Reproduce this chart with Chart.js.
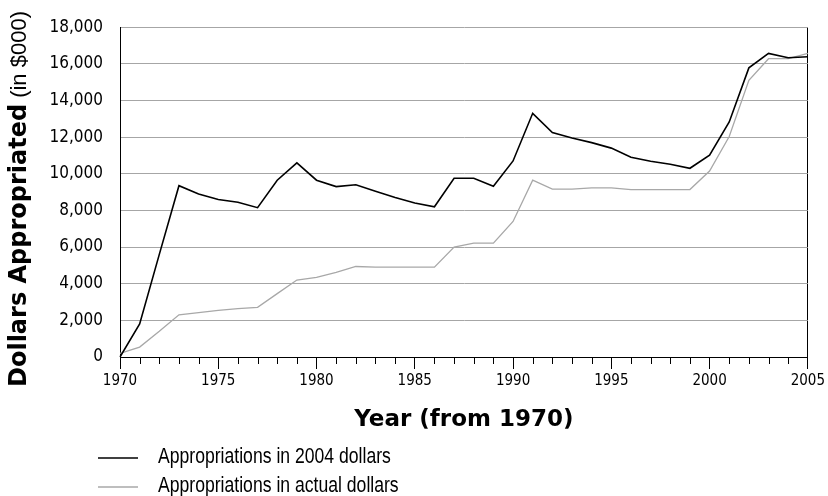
<!DOCTYPE html>
<html>
<head>
<meta charset="utf-8">
<script src="https://cdn.jsdelivr.net/npm/chart.js@4.4.1/dist/chart.umd.min.js"></script>
<style>
  html, body { margin: 0; padding: 0; background: #fff; }
  #wrap { width: 828px; height: 496px; }
</style>
</head>
<body>
<div id="wrap"><canvas id="c" width="828" height="496"></canvas></div>
<script>
// ---- Data ----
const years = [1970,1971,1972,1973,1974,1975,1976,1977,1978,1979,1980,1981,1982,1983,1984,1985,1986,1987,1988,1989,1990,1991,1992,1993,1994,1995,1996,1997,1998,1999,2000,2001,2002,2003,2004,2005];
const appropriations2004 = [0,1800,5600,9350,8900,8600,8450,8150,9650,10600,9650,9300,9400,9050,8700,8400,8200,9760,9760,9320,10700,13300,12250,11950,11700,11400,10900,10680,10520,10300,11020,12830,15780,16570,16330,16390];
const appropriationsActual = [200,540,1400,2300,2420,2550,2640,2710,3460,4200,4340,4620,4940,4900,4900,4900,4900,6000,6210,6210,7400,9650,9160,9160,9230,9230,9140,9140,9140,9140,10150,12030,15100,16280,16280,16570];
const seriesLabels = ['Appropriations in 2004 dollars', 'Appropriations in actual dollars'];
const yTicks = { min: 0, max: 18000, step: 2000 };
const xTitle = 'Year (from 1970)';
const yTitleMain = 'Dollars Appropriated';
const yTitleSub = '(in $000)';

const COND = "'DejaVu Sans Condensed', 'Liberation Sans Narrow', sans-serif";
const HEAVY = "'DejaVu Sans', 'Liberation Sans', sans-serif";
const REG = "'Liberation Sans', Arial, sans-serif";

// minor x ticks (every year); major ticks are drawn by the scale itself
const minorTicks = {
  id: 'minorTicks',
  afterDraw(chart) {
    const xs = chart.scales.x, ctx = chart.ctx;
    const y0 = chart.chartArea.bottom;
    ctx.save();
    ctx.strokeStyle = '#000';
    ctx.lineWidth = 1;
    xs.ticks.forEach((t, i) => {
      if (years[i] % 5 === 0) return;
      const x = Math.round(xs.getPixelForTick(i)) + 0.5;
      ctx.beginPath();
      ctx.moveTo(x, y0);
      ctx.lineTo(x, y0 + 7);
      ctx.stroke();
    });
    ctx.restore();
  }
};

// rotated y title with mixed fonts
const yTitlePlugin = {
  id: 'yTitle',
  afterDraw(chart, args, o) {
    const ctx = chart.ctx;
    ctx.save();
    ctx.translate(o.x, o.y);
    ctx.rotate(-Math.PI / 2);
    ctx.fillStyle = '#000';
    ctx.textAlign = 'left';
    ctx.textBaseline = 'alphabetic';
    ctx.font = 'bold 24px ' + HEAVY;
    ctx.fillText(yTitleMain, 0, 0);
    const w = ctx.measureText(yTitleMain).width;
    ctx.font = '22px ' + REG;
    ctx.fillText(yTitleSub, w + o.gap, 0);
    ctx.restore();
  }
};

// vertically stacked legend
const stackedLegend = {
  id: 'stackedLegend',
  afterDraw(chart, args, o) {
    const ctx = chart.ctx;
    chart.data.datasets.forEach((ds, i) => {
      const y = o.top + i * o.rowHeight;
      ctx.save();
      ctx.strokeStyle = ds.borderColor;
      ctx.lineWidth = ds.borderWidth;
      ctx.beginPath();
      ctx.moveTo(o.left, y);
      ctx.lineTo(o.left + o.lineLength, y);
      ctx.stroke();
      ctx.translate(o.left + o.lineLength + o.gap, y - 1);
      ctx.scale(0.8, 1);
      ctx.font = '22px ' + REG;
      ctx.fillStyle = '#000';
      ctx.textBaseline = 'middle';
      ctx.textAlign = 'left';
      ctx.fillText(ds.label, 0, 0);
      ctx.restore();
    });
  }
};

new Chart(document.getElementById('c'), {
  type: 'line',
  data: {
    labels: years,
    datasets: [
      { label: seriesLabels[0], data: appropriations2004, borderColor: '#000000', borderWidth: 1.6, pointRadius: 0, tension: 0, fill: false },
      { label: seriesLabels[1], data: appropriationsActual, borderColor: '#a8a8a8', borderWidth: 1.3, pointRadius: 0, tension: 0, fill: false }
    ]
  },
  plugins: [minorTicks, yTitlePlugin, stackedLegend],
  options: {
    responsive: false,
    animation: false,
    layout: { padding: { top: 23, right: 16, left: 0, bottom: 0 } },
    plugins: {
      legend: { display: false },
      tooltip: { enabled: false },
      yTitle: { x: 26, y: 387, gap: 6 },
      stackedLegend: { left: 98, top: 458, rowHeight: 29, lineLength: 40, gap: 20 }
    },
    scales: {
      x: {
        type: 'category',
        offset: false,
        afterFit: s => { s.height = 139; },
        grid: {
          drawOnChartArea: true,
          color: c => (c.index === years.length - 1 ? '#000' : 'rgba(0,0,0,0)'),
          tickColor: c => (years[c.index] % 5 === 0 ? '#000' : 'rgba(0,0,0,0)'),
          tickLength: 12,
          drawTicks: true
        },
        border: { display: true, color: '#000', width: 1 },
        ticks: {
          autoSkip: false,
          maxRotation: 0,
          padding: 3,
          color: '#000',
          font: { family: COND, size: 15 },
          callback: (v, i) => (years[i] % 5 === 0 ? String(years[i]) : '')
        },
        title: {
          display: true,
          text: xTitle,
          color: '#000',
          font: { family: HEAVY, size: 23, weight: 'bold' },
          padding: { top: 0, bottom: 62 }
        }
      },
      y: {
        min: yTicks.min,
        max: yTicks.max,
        afterFit: s => { s.width = 120; },
        grid: { color: '#a6a6a6', lineWidth: 1, drawTicks: false },
        border: { display: true, color: '#000', width: 1 },
        ticks: {
          stepSize: yTicks.step,
          padding: 17,
          color: '#000',
          font: { family: COND, size: 17 },
          callback: v => v.toLocaleString('en-US')
        }
      }
    }
  }
});
</script>
</body>
</html>
